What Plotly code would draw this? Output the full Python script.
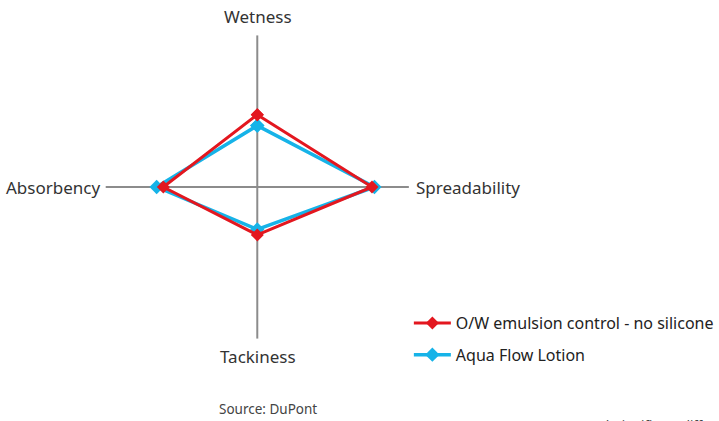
import plotly.graph_objects as go

categories = ["Wetness", "Spreadability", "Tackiness", "Absorbency"]
control_values = [0.477, 0.757, 0.316, 0.62]
aqua_values = [0.405, 0.773, 0.28, 0.664]
series_names = ["O/W emulsion control - no silicone", "Aqua Flow Lotion"]

FONT = "Noto Sans"
W, H = 719, 421

fig = go.Figure()

def closed(v):
    return v + v[:1]

fig.add_trace(go.Scatterpolar(
    r=closed(aqua_values), theta=closed(categories),
    mode="lines+markers", name=series_names[1], legendgroup="b", legendrank=2,
    line=dict(color="#16b3e8", width=3.5),
    marker=dict(symbol="diamond", size=11, color="#16b3e8"),
))
fig.add_trace(go.Scatterpolar(
    r=closed(control_values), theta=closed(categories),
    mode="lines+markers", name=series_names[0], legendgroup="a", legendrank=1,
    line=dict(color="#e3171f", width=3),
    marker=dict(symbol="diamond", size=10, color="#e3171f"),
))

cx, cy, R = 258, 187, 152

# category label placement (pixel positions around the cross)
label_pos = {
    "Wetness": dict(x=259, y=16, xanchor="center"),
    "Spreadability": dict(x=415, y=188, xanchor="left"),
    "Tackiness": dict(x=259, y=356, xanchor="center"),
    "Absorbency": dict(x=102, y=188, xanchor="right"),
}
annotations = []
for c in categories:
    p = label_pos[c]
    annotations.append(dict(text=c, x=p["x"] / W, y=1 - p["y"] / H, xref="paper", yref="paper",
                            xanchor=p["xanchor"], yanchor="middle", showarrow=False,
                            font=dict(size=17, color="#333333", family=FONT)))
annotations += [
    dict(text="Source: DuPont", x=269 / W, y=1 - 409 / H, xref="paper", yref="paper",
         showarrow=False, yanchor="middle", font=dict(size=13.5, color="#444444", family=FONT)),
    dict(text="* Significant difference", x=604 / W, y=1 - 425 / H, xref="paper", yref="paper",
         xanchor="left", yanchor="middle", showarrow=False,
         font=dict(size=13, color="#444444", family=FONT)),
]

fig.update_layout(
    width=W, height=H,
    margin=dict(l=0, r=0, t=0, b=0),
    paper_bgcolor="white",
    font=dict(family=FONT, size=15, color="#333333"),
    polar=dict(
        domain=dict(x=[(cx - R) / W, (cx + R) / W], y=[1 - (cy + R) / H, 1 - (cy - R) / H]),
        bgcolor="white",
        radialaxis=dict(range=[0, 1], showgrid=False, showline=False,
                        showticklabels=False, ticks=""),
        angularaxis=dict(categoryarray=categories, categoryorder="array",
                         rotation=90, direction="clockwise",
                         showline=False, showgrid=True, gridcolor="#8c8c8c", gridwidth=2,
                         ticks="", showticklabels=False),
    ),
    legend=dict(x=410 / W, y=1 - 306 / H, xanchor="left", yanchor="top",
                font=dict(size=16, color="#222222", family=FONT),
                itemwidth=37, tracegroupgap=8, bgcolor="rgba(0,0,0,0)"),
    annotations=annotations,
)

fig.write_html(
    "out.html", config={"displayModeBar": False},
    post_script=("document.documentElement.style.overflow='hidden';"
                 "document.body.style.overflow='hidden';"
                 "document.body.style.margin='0';window.scrollTo(0,0);"),
)
